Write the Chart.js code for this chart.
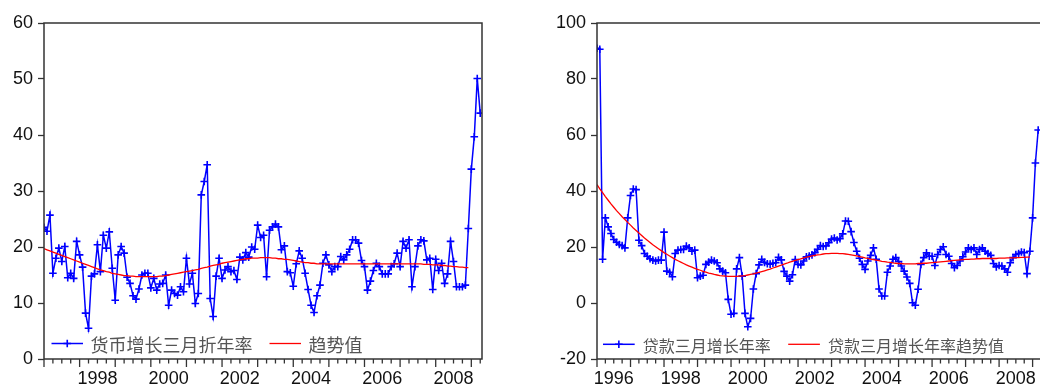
<!DOCTYPE html>
<html>
<head>
<meta charset="utf-8">
<script src="https://cdn.jsdelivr.net/npm/chart.js@4"></script>
<style>
  html, body { margin: 0; padding: 0; background: #fff; width: 1040px; height: 387px; overflow: hidden; position: relative; }
  canvas { position: absolute; top: 0; }
  #money { left: 0; }
  #loan { left: 550px; }
</style>
</head>
<body>
<canvas id="money" width="500" height="387"></canvas>
<canvas id="loan" width="500" height="387"></canvas>
<script>
// Monthly series, first value = January of the start year
const moneyStartYear = 1997;
const moneyGrowth = [
  23.5, 22.8, 25.7, 15.3, 18.0, 19.8, 17.4, 20.1, 14.5, 15.3,
  14.4, 21.0, 18.6, 16.4, 8.2, 5.5, 14.8, 15.2, 20.4, 15.6,
  22.1, 19.8, 22.7, 16.2, 10.5, 18.6, 20.1, 18.9, 14.6, 13.5,
  11.3, 10.7, 12.5, 15.0, 15.3, 15.3, 12.7, 14.4, 12.3, 13.4,
  13.5, 15.0, 9.6, 12.3, 11.7, 11.4, 12.9, 12.0, 18.0, 13.4,
  15.3, 9.9, 11.7, 29.3, 31.7, 34.7, 10.8, 7.6, 14.8, 18.0,
  14.4, 15.9, 16.5, 15.6, 15.8, 14.2, 18.2, 17.7, 19.0, 18.2,
  20.0, 19.6, 23.9, 21.7, 22.1, 14.7, 23.0, 23.6, 24.1, 23.6,
  19.5, 20.2, 15.6, 15.4, 13.0, 17.0, 19.3, 18.0, 15.3, 12.4,
  9.6, 8.3, 11.3, 13.2, 17.1, 18.6, 16.8, 15.6, 16.5, 16.5,
  18.3, 17.7, 18.6, 19.6, 21.3, 21.3, 20.7, 17.6, 16.5, 12.3,
  13.9, 15.8, 17.1, 16.5, 15.2, 15.2, 15.2, 16.5, 17.0, 18.9,
  16.5, 21.0, 19.8, 21.3, 12.9, 16.5, 20.2, 21.3, 21.1, 17.7,
  18.0, 12.4, 17.8, 15.8, 17.1, 13.5, 15.2, 21.0, 17.4, 12.9,
  12.9, 12.9, 13.2, 23.3, 33.9, 39.7, 50.1, 43.9
];
const moneyTrend = [
  19.7, 19.5, 19.3, 19.1, 18.9, 18.7, 18.5, 18.3, 18.1, 17.9, 17.7, 17.5,
  17.3, 17.1, 16.9, 16.7, 16.5, 16.3, 16.1, 15.9, 15.8, 15.6, 15.5, 15.3,
  15.2, 15.1, 15.0, 14.9, 14.9, 14.8, 14.8, 14.7, 14.7, 14.7, 14.7, 14.7,
  14.7, 14.7, 14.7, 14.8, 14.8, 14.9, 15.0, 15.1, 15.2, 15.3, 15.4, 15.5,
  15.6, 15.7, 15.8, 15.9, 16.0, 16.2, 16.3, 16.4, 16.6, 16.7, 16.8, 16.9,
  17.1, 17.2, 17.3, 17.4, 17.5, 17.6, 17.7, 17.8, 17.9, 17.9, 18.0, 18.0,
  18.0, 18.1, 18.1, 18.1, 18.1, 18.0, 18.0, 17.9, 17.9, 17.8, 17.8, 17.7,
  17.6, 17.5, 17.4, 17.3, 17.2, 17.2, 17.1, 17.1, 17.0, 17.0, 17.0, 17.0,
  17.0, 17.0, 17.0, 17.0, 17.0, 17.0, 17.0, 17.0, 17.0, 17.0, 17.0, 17.0,
  17.0, 17.0, 17.0, 17.0, 17.0, 17.0, 17.0, 17.0, 17.0, 17.0, 17.0, 17.0,
  17.0, 17.0, 17.0, 17.0, 17.0, 17.0, 17.0, 17.0, 16.9, 16.9, 16.9, 16.8,
  16.8, 16.8, 16.7, 16.7, 16.6, 16.6, 16.5, 16.5, 16.4, 16.4, 16.3, 16.3
];

const loanStartYear = 1996;
const loanGrowth = [
  91.0, 90.6, 15.6, 30.4, 27.2, 24.8, 22.7, 21.7, 20.9, 20.5,
  19.7, 30.4, 38.4, 40.7, 40.5, 22.4, 20.5, 17.7, 16.7, 15.8,
  15.3, 15.0, 15.3, 15.3, 25.3, 11.4, 11.0, 9.4, 17.7, 18.9,
  19.1, 19.1, 20.3, 19.7, 18.5, 18.9, 9.0, 9.6, 9.9, 13.8,
  14.6, 15.3, 15.0, 14.4, 12.2, 11.4, 10.8, 1.3, -4.0, -3.7,
  12.2, 16.2, 9.6, -3.7, -8.5, -5.5, 5.0, 10.5, 13.6, 15.6,
  14.5, 14.0, 13.9, 14.2, 14.4, 16.3, 15.4, 11.3, 9.6, 7.8,
  10.1, 15.5, 13.8, 13.6, 15.0, 16.5, 16.8, 17.2, 18.0, 19.2,
  20.5, 20.2, 20.4, 21.5, 22.8, 23.2, 22.5, 23.0, 24.7, 29.3,
  29.2, 25.5, 21.6, 18.5, 16.0, 13.8, 12.0, 15.0, 17.0, 19.7,
  15.6, 5.0, 2.5, 2.5, 11.0, 13.2, 15.6, 16.2, 14.8, 13.2,
  11.4, 9.3, 7.0, 0.1, -0.8, 4.9, 13.8, 16.2, 17.9, 16.7,
  16.7, 13.4, 17.3, 19.1, 20.1, 17.3, 16.7, 14.1, 12.6, 13.4,
  15.0, 16.5, 18.2, 19.7, 19.1, 19.7, 17.3, 19.1, 19.7, 18.5,
  17.7, 17.0, 14.1, 12.9, 13.4, 13.2, 12.2, 11.0, 14.4, 16.2,
  17.3, 17.7, 18.2, 18.0, 10.5, 18.5, 30.4, 50.0, 61.8
];
const loanTrend = [
  42.3, 40.8, 39.4, 38.0, 36.7, 35.4, 34.2, 33.0, 31.9, 30.8, 29.8, 28.8,
  27.8, 26.8, 25.9, 25.0, 24.1, 23.2, 22.4, 21.6, 20.8, 20.1, 19.4, 18.7,
  18.0, 17.4, 16.8, 16.2, 15.6, 15.1, 14.6, 14.1, 13.6, 13.2, 12.8, 12.4,
  12.0, 11.7, 11.3, 11.0, 10.7, 10.5, 10.2, 10.0, 9.8, 9.7, 9.6, 9.5,
  9.5, 9.5, 9.5, 9.6, 9.7, 9.8, 10.0, 10.2, 10.4, 10.7, 10.9, 11.2,
  11.5, 11.8, 12.1, 12.5, 12.8, 13.2, 13.5, 13.9, 14.2, 14.6, 14.9, 15.2,
  15.5, 15.8, 16.1, 16.4, 16.6, 16.8, 17.0, 17.2, 17.3, 17.5, 17.6, 17.6,
  17.7, 17.7, 17.7, 17.6, 17.6, 17.5, 17.4, 17.2, 17.0, 16.8, 16.6, 16.4,
  16.1, 15.9, 15.7, 15.5, 15.3, 15.1, 14.9, 14.8, 14.6, 14.5, 14.3, 14.2,
  14.1, 14.1, 14.0, 14.0, 14.0, 14.0, 14.0, 14.1, 14.1, 14.2, 14.2, 14.3,
  14.4, 14.5, 14.6, 14.7, 14.8, 14.9, 15.0, 15.1, 15.2, 15.3, 15.4, 15.5,
  15.6, 15.6, 15.7, 15.7, 15.8, 15.8, 15.9, 15.9, 15.9, 15.9, 15.9, 15.9,
  16.0, 16.0, 16.0, 16.1, 16.1, 16.1, 16.2, 16.2, 16.3, 16.3, 16.4, 16.4
];

// Axis ticks and labels
const moneyYTicks = [0, 10, 20, 30, 40, 50, 60];
const loanYTicks = [-20, 0, 20, 40, 60, 80, 100];
const moneyYearLabels = [1998, 2000, 2002, 2004, 2006, 2008];
const loanYearLabels = [1996, 1998, 2000, 2002, 2004, 2006, 2008];
const moneyNames = ['货币增长三月折年率', '趋势值'];
const loanNames = ['贷款三月增长年率', '贷款三月增长年率趋势值'];
const axisEnd = 2009.3;

const TICK_FONT = '"Liberation Sans", Arial, sans-serif';
const CJK_FONT = '"Noto Sans CJK SC", "Noto Sans", sans-serif';
const BLUE = '#0000ff';
const RED = '#ff0000';

function monthly(startYear, values) {
  return values.map((v, i) => ({ x: startYear + i / 12, y: v }));
}

// Box around the plot plus quarterly tick marks (longer at year starts)
const framePlugin = {
  id: 'frame',
  afterDraw(chart) {
    const { ctx, chartArea: a } = chart;
    const x = chart.scales.x;
    ctx.save();
    ctx.strokeStyle = '#333';
    ctx.lineWidth = 1.5;
    ctx.strokeRect(a.left, a.top, a.right - a.left, a.bottom - a.top);
    ctx.lineWidth = 1.3;
    x.ticks.forEach(t => {
      const px = x.getPixelForValue(t.value);
      const major = Math.abs(t.value - Math.round(t.value)) < 1e-6;
      ctx.beginPath();
      ctx.moveTo(px, a.bottom);
      ctx.lineTo(px, a.bottom + (major ? 8 : 4.5));
      ctx.stroke();
    });
    ctx.restore();
  }
};

// Series key drawn inside the plot, bottom left
const keyPlugin = {
  id: 'seriesKey',
  afterDraw(chart, args, opts) {
    const { ctx, chartArea: a } = chart;
    ctx.save();
    ctx.font = opts.size + 'px ' + CJK_FONT;
    ctx.textBaseline = 'middle';
    ctx.textAlign = 'left';
    let x = a.left + opts.offsetX;
    const y = a.bottom - opts.offsetY;
    chart.data.datasets.forEach(ds => {
      ctx.strokeStyle = ds.borderColor;
      ctx.lineWidth = ds.borderWidth;
      ctx.beginPath();
      ctx.moveTo(x, y);
      ctx.lineTo(x + opts.lineLen, y);
      ctx.stroke();
      if (ds.pointRadius > 0) {
        const cx = x + opts.lineLen / 2, r = ds.pointRadius;
        ctx.lineWidth = ds.pointBorderWidth;
        ctx.beginPath();
        ctx.moveTo(cx - r, y); ctx.lineTo(cx + r, y);
        ctx.moveTo(cx, y - r); ctx.lineTo(cx, y + r);
        ctx.stroke();
      }
      const tx = x + opts.lineLen + opts.textGap;
      ctx.fillStyle = '#555';
      ctx.fillText(ds.label, tx, y + 1.5);
      x = tx + ctx.measureText(ds.label).width + opts.itemGap;
    });
    ctx.restore();
  }
};

function makeChart(id, cfg) {
  return new Chart(document.getElementById(id), {
    type: 'line',
    data: {
      datasets: [
        {
          label: cfg.names[0],
          data: monthly(cfg.start, cfg.values),
          borderColor: BLUE,
          borderWidth: 1.5,
          pointStyle: 'cross',
          pointRadius: 3.8,
          pointBorderWidth: 1.6,
          pointBorderColor: BLUE,
          tension: 0,
          order: 1
        },
        {
          label: cfg.names[1],
          data: monthly(cfg.start, cfg.trend),
          borderColor: RED,
          borderWidth: 1.3,
          pointRadius: 0,
          tension: 0,
          order: 0
        }
      ]
    },
    options: {
      responsive: false,
      animation: false,
      devicePixelRatio: 1,
      events: [],
      layout: { padding: { top: 23, right: cfg.padRight, left: 0, bottom: 0 } },
      plugins: {
        legend: { display: false },
        tooltip: { enabled: false },
        seriesKey: cfg.key
      },
      scales: {
        x: {
          type: 'linear',
          min: cfg.start,
          max: axisEnd,
          afterBuildTicks(scale) {
            const t = [];
            for (let q = Math.round(cfg.start * 4); q / 4 <= axisEnd + 1e-9; q++) t.push({ value: q / 4 });
            scale.ticks = t;
          },
          afterFit(scale) { scale.height = 28; },
          grid: { display: false, drawTicks: false },
          border: { display: false },
          ticks: {
            autoSkip: false,
            maxRotation: 0,
            padding: 9,
            color: '#111',
            font: { family: TICK_FONT, size: 18 },
            callback(value) {
              const yr = Math.floor(value + 1e-9);
              return (Math.abs(value - yr - 0.5) < 1e-6 && cfg.years.includes(yr)) ? String(yr) : '';
            }
          }
        },
        y: {
          min: cfg.yTicks[0],
          max: cfg.yTicks[cfg.yTicks.length - 1],
          afterBuildTicks(scale) { scale.ticks = cfg.yTicks.map(v => ({ value: v })); },
          afterFit(scale) { scale.width = cfg.yWidth; },
          grid: { drawOnChartArea: false, drawTicks: true, tickLength: 6, tickColor: '#333', tickWidth: 1.3 },
          border: { display: false },
          ticks: {
            padding: 5,
            color: '#111',
            font: { family: TICK_FONT, size: 18 }
          }
        }
      }
    },
    plugins: [framePlugin, keyPlugin]
  });
}

makeChart('money', {
  start: moneyStartYear,
  values: moneyGrowth,
  trend: moneyTrend,
  names: moneyNames,
  yTicks: moneyYTicks,
  years: moneyYearLabels,
  yWidth: 44,
  padRight: 18,
  key: { offsetX: 7.5, offsetY: 15.5, lineLen: 31.5, textGap: 7.5, itemGap: 17, size: 18 }
});

makeChart('loan', {
  start: loanStartYear,
  values: loanGrowth,
  trend: loanTrend,
  names: loanNames,
  yTicks: loanYTicks,
  years: loanYearLabels,
  yWidth: 47,
  padRight: 4,
  key: { offsetX: 6, offsetY: 14.7, lineLen: 31.7, textGap: 8, itemGap: 17.5, size: 16 }
});
</script>
</body>
</html>
